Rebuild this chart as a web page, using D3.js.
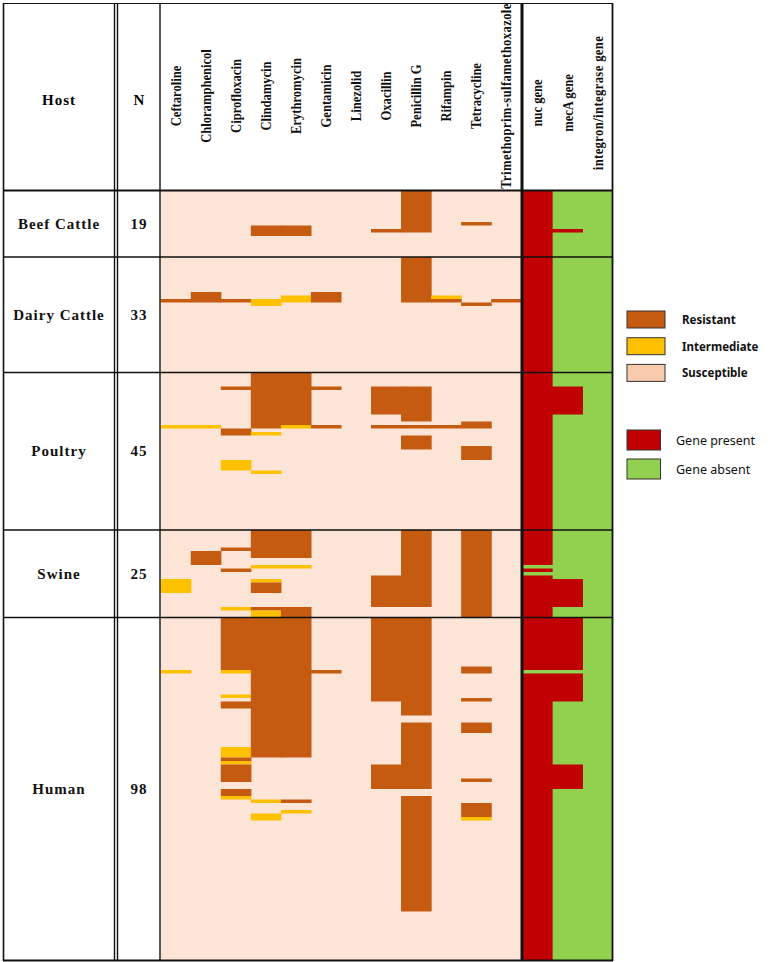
<!DOCTYPE html>
<html>
<head>
<meta charset="utf-8">
<script src="https://cdn.jsdelivr.net/npm/d3@7"></script>
<style>
  body { margin: 0; background: #fff; }
  svg { display: block; }
</style>
</head>
<body>
<svg width="770" height="962"></svg>
<script>
// Columns
const antibiotics = ["Ceftaroline", "Chloramphenicol", "Ciprofloxacin", "Clindamycin", "Erythromycin",
  "Gentamicin", "Linezolid", "Oxacillin", "Penicillin G", "Rifampin", "Tetracycline",
  "Trimethoprim-sulfamethoxazole"];
const genes = ["nuc gene", "mecA gene", "integron/integrase gene"];

// Host groups
const hosts = ["Beef Cattle", "Dairy Cattle", "Poultry", "Swine", "Human"];
const counts = [19, 33, 45, 25, 98];

// Non-default cells per host: [column, first isolate, last isolate, status]
// R resistant, I intermediate (default S); P gene present, A gene absent
const beefRuns = [
  ["Penicillin G", 0, 11, "R"], ["Oxacillin", 11, 11, "R"],
  ["Clindamycin", 10, 12, "R"], ["Erythromycin", 10, 12, "R"],
  ["Tetracycline", 9, 9, "R"], ["mecA gene", 11, 11, "P"]
];
const dairyRuns = [
  ["Penicillin G", 0, 12, "R"], ["Ceftaroline", 12, 12, "R"],
  ["Chloramphenicol", 10, 12, "R"], ["Ciprofloxacin", 12, 12, "R"],
  ["Clindamycin", 12, 13, "I"], ["Erythromycin", 11, 12, "I"],
  ["Gentamicin", 10, 12, "R"], ["Rifampin", 11, 11, "I"], ["Rifampin", 12, 12, "R"],
  ["Tetracycline", 13, 13, "R"], ["Trimethoprim-sulfamethoxazole", 12, 12, "R"]
];
const poultryRuns = [
  ["Ciprofloxacin", 4, 4, "R"], ["Clindamycin", 0, 15, "R"],
  ["Erythromycin", 0, 14, "R"], ["Erythromycin", 15, 15, "I"],
  ["Gentamicin", 4, 4, "R"], ["Gentamicin", 15, 15, "R"],
  ["Ceftaroline", 15, 15, "I"], ["Chloramphenicol", 15, 15, "I"],
  ["Ciprofloxacin", 16, 17, "R"], ["Clindamycin", 17, 17, "I"],
  ["Oxacillin", 4, 11, "R"], ["Penicillin G", 4, 13, "R"],
  ["Oxacillin", 15, 15, "R"], ["Penicillin G", 15, 15, "R"], ["Rifampin", 15, 15, "R"],
  ["Tetracycline", 14, 15, "R"], ["Penicillin G", 18, 21, "R"],
  ["Tetracycline", 21, 24, "R"], ["Ciprofloxacin", 25, 27, "I"],
  ["Clindamycin", 28, 28, "I"], ["mecA gene", 4, 11, "P"]
];
const swineRuns = [
  ["Clindamycin", 0, 7, "R"], ["Erythromycin", 0, 7, "R"],
  ["Ciprofloxacin", 5, 5, "R"], ["Chloramphenicol", 6, 9, "R"],
  ["Clindamycin", 10, 10, "I"], ["Erythromycin", 10, 10, "I"],
  ["Ciprofloxacin", 11, 11, "R"], ["Ceftaroline", 14, 17, "I"],
  ["Clindamycin", 14, 14, "I"], ["Clindamycin", 15, 17, "R"],
  ["Oxacillin", 13, 21, "R"], ["Penicillin G", 0, 21, "R"],
  ["Tetracycline", 0, 24, "R"], ["Ciprofloxacin", 22, 22, "I"],
  ["Clindamycin", 22, 22, "R"], ["Clindamycin", 23, 24, "I"],
  ["Erythromycin", 22, 24, "R"],
  ["nuc gene", 10, 10, "A"], ["nuc gene", 12, 12, "A"], ["mecA gene", 14, 21, "P"]
];
const humanRuns = [
  ["Ciprofloxacin", 0, 14, "R"], ["Ciprofloxacin", 15, 15, "I"],
  ["Clindamycin", 0, 39, "R"], ["Erythromycin", 0, 39, "R"],
  ["Ceftaroline", 15, 15, "I"], ["Gentamicin", 15, 15, "R"],
  ["Ciprofloxacin", 22, 22, "I"], ["Ciprofloxacin", 24, 25, "R"],
  ["Ciprofloxacin", 37, 39, "I"], ["Ciprofloxacin", 40, 40, "R"],
  ["Ciprofloxacin", 41, 41, "I"], ["Ciprofloxacin", 42, 46, "R"],
  ["Ciprofloxacin", 49, 50, "R"], ["Ciprofloxacin", 51, 51, "I"],
  ["Oxacillin", 0, 23, "R"], ["Oxacillin", 42, 48, "R"],
  ["Penicillin G", 0, 27, "R"], ["Penicillin G", 30, 48, "R"], ["Penicillin G", 51, 83, "R"],
  ["Tetracycline", 14, 15, "R"], ["Tetracycline", 23, 23, "R"],
  ["Tetracycline", 30, 32, "R"], ["Tetracycline", 46, 46, "R"],
  ["Tetracycline", 53, 56, "R"], ["Tetracycline", 57, 57, "I"],
  ["Clindamycin", 52, 52, "I"], ["Erythromycin", 52, 52, "R"],
  ["Erythromycin", 55, 55, "I"], ["Clindamycin", 56, 57, "I"],
  ["nuc gene", 15, 15, "A"],
  ["mecA gene", 0, 14, "P"], ["mecA gene", 16, 23, "P"], ["mecA gene", 42, 48, "P"]
];
const hostRuns = [beefRuns, dairyRuns, poultryRuns, swineRuns, humanRuns];

const statusColor = {R: "#C55A11", I: "#FFC000", S: "#FCE4D6", P: "#C00000", A: "#92D050"};
const legendAst = [["Resistant", "R"], ["Intermediate", "I"], ["Susceptible", "S"]];
const legendGene = [["Gene present", "P"], ["Gene absent", "A"]];

const svg = d3.select("svg");
const total = d3.sum(counts);
const offsets = counts.map((c, i) => d3.sum(counts.slice(0, i)));

// Scales
const xAb = d3.scaleBand().domain(antibiotics).range([161, 521.5]);
const xGene = d3.scaleBand().domain(genes).range([522, 613]);
const y = d3.scaleLinear().domain([0, total]).range([190.5, 960.5]);
const colX = c => antibiotics.includes(c) ? xAb(c) : xGene(c);
const colW = c => antibiotics.includes(c) ? xAb.bandwidth() : xGene.bandwidth();

// Build status matrix
const columns = antibiotics.concat(genes);
const matrix = {};
columns.forEach(c => {
  matrix[c] = d3.range(total).map(() => c === "nuc gene" ? "P" : (genes.includes(c) ? "A" : "S"));
});
hostRuns.forEach((runs, h) => {
  runs.forEach(([c, a, b, s]) => {
    for (let r = a; r <= b; r++) matrix[c][offsets[h] + r] = s;
  });
});

// Merge consecutive equal cells into runs
const segs = [];
columns.forEach(c => {
  let start = 0;
  for (let r = 1; r <= total; r++) {
    if (r === total || matrix[c][r] !== matrix[c][start]) {
      segs.push({col: c, from: start, to: r, s: matrix[c][start]});
      start = r;
    }
  }
});

// Backgrounds: susceptible and gene absent
svg.append("rect")
  .attr("x", xAb.range()[0]).attr("y", y(0))
  .attr("width", xAb.range()[1] - xAb.range()[0]).attr("height", y(total) - y(0))
  .attr("fill", statusColor.S);
svg.append("rect")
  .attr("x", xGene.range()[0]).attr("y", y(0))
  .attr("width", xGene.range()[1] - xGene.range()[0]).attr("height", y(total) - y(0))
  .attr("fill", statusColor.A);

// Marks (slight overlap avoids hairline seams between neighbouring columns)
svg.append("g")
  .selectAll("rect")
  .data(segs.filter(d => d.s !== "S" && d.s !== "A"))
  .join("rect")
  .attr("x", d => colX(d.col) - 0.3)
  .attr("y", d => y(d.from))
  .attr("width", d => colW(d.col) + 0.6)
  .attr("height", d => y(d.to) - y(d.from))
  .attr("fill", d => statusColor[d.s]);

// Table lines
const lines = svg.append("g").attr("stroke", "#111");
const hLines = [190.5].concat(counts.map((c, i) => y(offsets[i] + c)));
lines.selectAll("line.h")
  .data(hLines)
  .join("line")
  .attr("x1", 3).attr("x2", 613)
  .attr("y1", d => d).attr("y2", d => d)
  .attr("stroke-width", (d, i) => i === 0 || i === hLines.length - 1 ? 2 : 1.4);
lines.append("line").attr("x1", 3).attr("x2", 613).attr("y1", 3.5).attr("y2", 3.5).attr("stroke-width", 1.2);
[[3.5, 1.6], [114.5, 1.4], [117.5, 1.4], [160, 1.4], [522, 3], [612.5, 1.8]].forEach(([x, w]) => {
  lines.append("line").attr("x1", x).attr("x2", x).attr("y1", 3).attr("y2", 961).attr("stroke-width", w);
});

// Header text
const serif = "'Liberation Serif', 'Times New Roman', serif";
svg.append("text").attr("x", 59).attr("y", 105).attr("text-anchor", "middle")
  .attr("font-family", serif).attr("font-weight", "bold").attr("font-size", 15)
  .attr("letter-spacing", 1).text("Host");
svg.append("text").attr("x", 139).attr("y", 105).attr("text-anchor", "middle")
  .attr("font-family", serif).attr("font-weight", "bold").attr("font-size", 15).text("N");

svg.append("g")
  .selectAll("text")
  .data(columns)
  .join("text")
  .attr("transform", d => `translate(${colX(d) + colW(d) / 2 + 5},${genes.includes(d) ? 103 : 96}) rotate(-90) scale(0.9,1)`)
  .attr("text-anchor", "middle")
  .attr("font-family", serif)
  .attr("font-weight", "bold")
  .attr("font-size", 14)
  .attr("letter-spacing", d => d.length > 20 ? 0.45 : 0)
  .attr("fill", "#111")
  .text(d => d);

// Host and N cells
const hostG = svg.append("g")
  .attr("font-family", serif).attr("font-weight", "bold").attr("font-size", 15)
  .attr("text-anchor", "middle").attr("fill", "#111");
hostG.selectAll("text.host")
  .data(hosts)
  .join("text")
  .attr("class", "host")
  .attr("x", 59)
  .attr("y", (d, i) => (y(offsets[i]) + y(offsets[i] + counts[i])) / 2 + 5)
  .attr("letter-spacing", 1)
  .text(d => d);
hostG.selectAll("text.n")
  .data(counts)
  .join("text")
  .attr("class", "n")
  .attr("x", 139)
  .attr("y", (d, i) => (y(offsets[i]) + y(offsets[i] + d)) / 2 + 5)
  .attr("letter-spacing", 1)
  .text(d => d);

// Legend
const sans = "'Noto Sans', 'Open Sans', sans-serif";
const legAst = svg.append("g").attr("transform", "translate(627,311)");
legAst.selectAll("rect")
  .data(legendAst)
  .join("rect")
  .attr("x", 0).attr("y", (d, i) => i * 26.7)
  .attr("width", 38).attr("height", 17)
  .attr("fill", d => d[1] === "S" ? "#F8CBAD" : statusColor[d[1]])
  .attr("stroke", "#333").attr("stroke-width", 1);
legAst.selectAll("text")
  .data(legendAst)
  .join("text")
  .attr("x", 55).attr("y", (d, i) => i * 26.7 + 13)
  .attr("font-family", sans).attr("font-weight", "bold").attr("font-size", 11.5)
  .attr("fill", "#111")
  .text(d => d[0]);

const legGene = svg.append("g").attr("transform", "translate(627,430)");
legGene.selectAll("rect")
  .data(legendGene)
  .join("rect")
  .attr("x", 0).attr("y", (d, i) => i * 29)
  .attr("width", 33.5).attr("height", 20)
  .attr("fill", d => statusColor[d[1]])
  .attr("stroke", "#333").attr("stroke-width", 1);
legGene.selectAll("text")
  .data(legendGene)
  .join("text")
  .attr("x", 49).attr("y", (d, i) => i * 29 + 15)
  .attr("font-family", sans).attr("font-size", 12.5)
  .attr("fill", "#111")
  .text(d => d[0]);
</script>
</body>
</html>
